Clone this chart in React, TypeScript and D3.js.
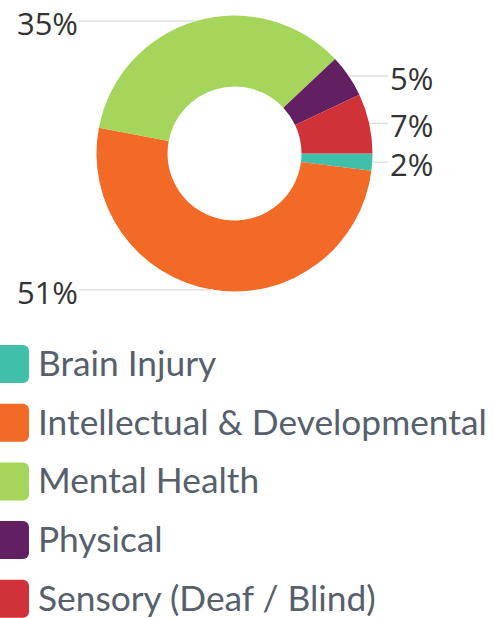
import React from "react";
import * as d3 from "d3";

const categories = [
  "Brain Injury",
  "Intellectual & Developmental",
  "Mental Health",
  "Physical",
  "Sensory (Deaf / Blind)",
];
const values = [2, 51, 35, 5, 7];
const colors = ["#40bfab", "#f26a25", "#a6d55c", "#621f62", "#d13238"];

const W = 495;
const H = 618;
const cx = 234.5;
const cy = 153.5;
const outerR = 138;
const innerR = 67;

export default function App() {
  const pie = d3
    .pie<number>()
    .sort(null)
    .startAngle(Math.PI / 2)
    .endAngle(Math.PI / 2 + 2 * Math.PI)(values);
  const arc = d3.arc<d3.PieArcDatum<number>>().innerRadius(innerR).outerRadius(outerR);
  const total = d3.sum(values);

  const rowY = d3.scaleLinear().domain([0, 1]).range([364, 364 + 58.7]);

  return (
    <div style={{ position: "absolute", left: 0, top: 0 }}>
      <svg width={W} height={H} style={{ display: "block" }}>
        <g transform={`translate(${cx},${cy})`}>
          {pie.map((d, i) => (
            <path key={i} d={arc(d) || ""} fill={colors[i]} />
          ))}
        </g>
        {pie.map((d, i) => {
          const mid = (d.startAngle + d.endAngle) / 2;
          const px = cx + outerR * Math.sin(mid);
          const py = cy - outerR * Math.cos(mid);
          const right = Math.sin(mid) > 0.5;
          const lx = right ? 388 : 79;
          const pct = Math.round((d.value / total) * 100) + "%";
          return (
            <g key={"l" + i}>
              <line x1={px} y1={py} x2={lx} y2={py} stroke="#e0e0e0" strokeWidth={1.5} />
              <text
                x={right ? lx + 2 : lx - 1}
                y={py + 14}
                textAnchor={right ? "start" : "end"}
                fontFamily="'Open Sans', 'Noto Sans', sans-serif"
                fontSize={31}
                fill="#333"
              >
                {pct}
              </text>
            </g>
          );
        })}
        {categories.map((c, i) => (
          <g key={"g" + i}>
            <rect x={-9} y={rowY(i) - 19} width={38} height={38} rx={6} fill={colors[i]} />
            <text
              x={38}
              y={rowY(i) + 12}
              fontFamily="Lato, sans-serif"
              fontSize={35.3}
              fill="#56606b"
            >
              {c}
            </text>
          </g>
        ))}
      </svg>
    </div>
  );
}
